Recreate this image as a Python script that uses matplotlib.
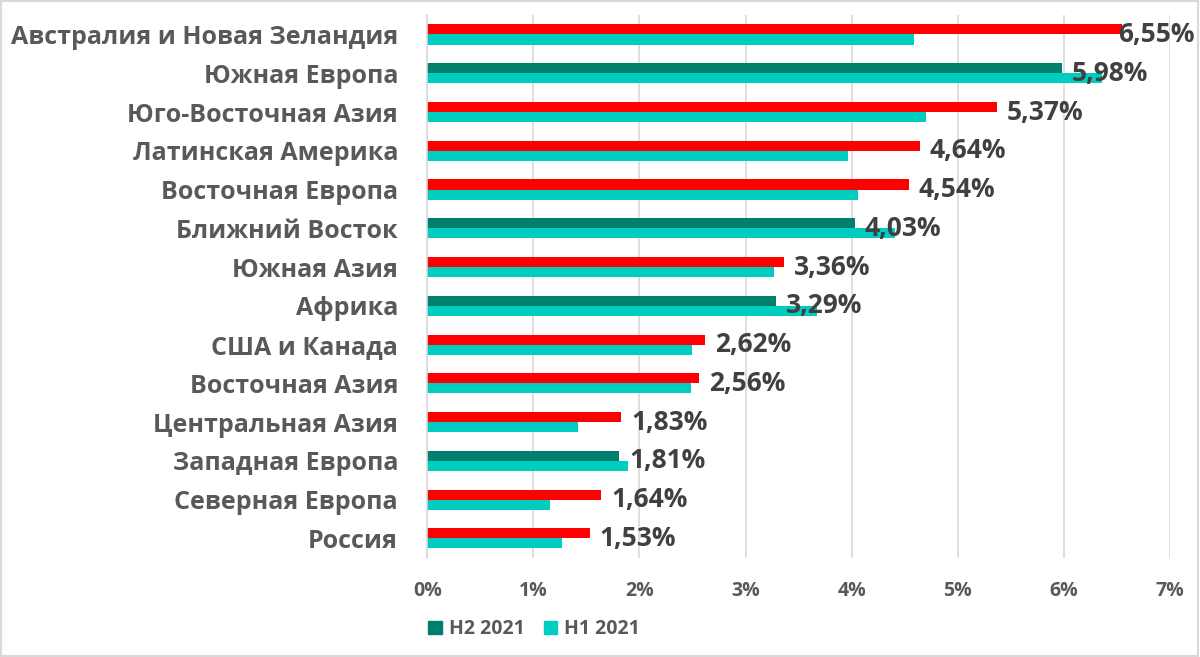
import numpy as np
import matplotlib.pyplot as plt
from matplotlib.patches import Rectangle

regions = ['Австралия и Новая Зеландия', 'Южная Европа', 'Юго-Восточная Азия',
           'Латинская Америка', 'Восточная Европа', 'Ближний Восток',
           'Южная Азия', 'Африка', 'США и Канада', 'Восточная Азия',
           'Центральная Азия', 'Западная Европа', 'Северная Европа', 'Россия']
h2_2021 = [6.55, 5.98, 5.37, 4.64, 4.54, 4.03, 3.36, 3.29, 2.62, 2.56, 1.83, 1.81, 1.64, 1.53]
h1_2021 = [4.59, 6.36, 4.70, 3.97, 4.06, 4.41, 3.27, 3.67, 2.50, 2.49, 1.42, 1.89, 1.16, 1.27]

RED = '#FF0000'
DARK = '#00806C'
CYAN = '#00CCC0'
GREY = '#595959'

plt.rcParams['font.family'] = ['Open Sans', 'DejaVu Sans']

fig = plt.figure(figsize=(12, 6.57), dpi=100)
ax = fig.add_axes([0.356, 0.151, 0.619, 0.826])

y = np.arange(len(regions))
h = 0.26
h2 = np.array(h2_2021)
h1 = np.array(h1_2021)
h2_colors = [RED if a >= b else DARK for a, b in zip(h2, h1)]

ax.barh(y + h / 2, h1, height=h, color=CYAN, zorder=2)
ax.barh(y - h / 2, h2, height=h, color=h2_colors, zorder=2)

labels = []
for yi, v in zip(y, h2):
    t = ax.annotate(f'{v:.2f}%'.replace('.', ','), xy=(v, yi), xytext=(7, 0),
                    textcoords='offset points', va='center', ha='left',
                    fontsize=19, fontweight='bold', color='#404040', zorder=3,
                    annotation_clip=False)
    labels.append(t)

ax.set_xlim(0, 7)
ax.set_ylim(len(regions) - 0.5, -0.5)
ax.set_xticks(range(8))
ax.set_xticklabels([f'{i}%' for i in range(8)])
ax.set_yticks(y)
ax.set_yticklabels(regions)
ax.tick_params(axis='y', length=0, pad=21, labelsize=18, labelcolor=GREY)
ax.tick_params(axis='x', length=0, pad=17, labelsize=14, labelcolor=GREY)
for lab in ax.get_yticklabels() + ax.get_xticklabels():
    lab.set_fontweight('bold')

ax.grid(axis='x', color='#D9D9D9', lw=1.2, zorder=0)
for s in ['top', 'right', 'bottom']:
    ax.spines[s].set_visible(False)
ax.spines['left'].set_color('#D9D9D9')
ax.spines['left'].set_linewidth(1.2)

handles = [Rectangle((0, 0), 1, 1, color=DARK), Rectangle((0, 0), 1, 1, color=CYAN)]
fig.legend(handles, ['H2 2021', 'H1 2021'], loc='center', bbox_to_anchor=(0.445, 0.042),
           ncol=2, frameon=False, handlelength=0.7, handleheight=0.7,
           handletextpad=0.35, columnspacing=1.0,
           prop={'size': 14, 'weight': 'bold'}, labelcolor=GREY)

fig.patches.append(Rectangle((0.001, 0.002), 0.997, 0.996, transform=fig.transFigure,
                             fill=False, edgecolor='#D9D9D9', lw=1.5))

# keep value labels inside the chart area
fig.canvas.draw()
renderer = fig.canvas.get_renderer()
limit = fig.bbox.width - 5
for t in labels:
    bb = t.get_window_extent(renderer)
    if bb.x1 > limit:
        shift = (bb.x1 - limit) * 72 / fig.dpi
        t.set_position((7 - shift, 0))

fig.savefig('out.png')
